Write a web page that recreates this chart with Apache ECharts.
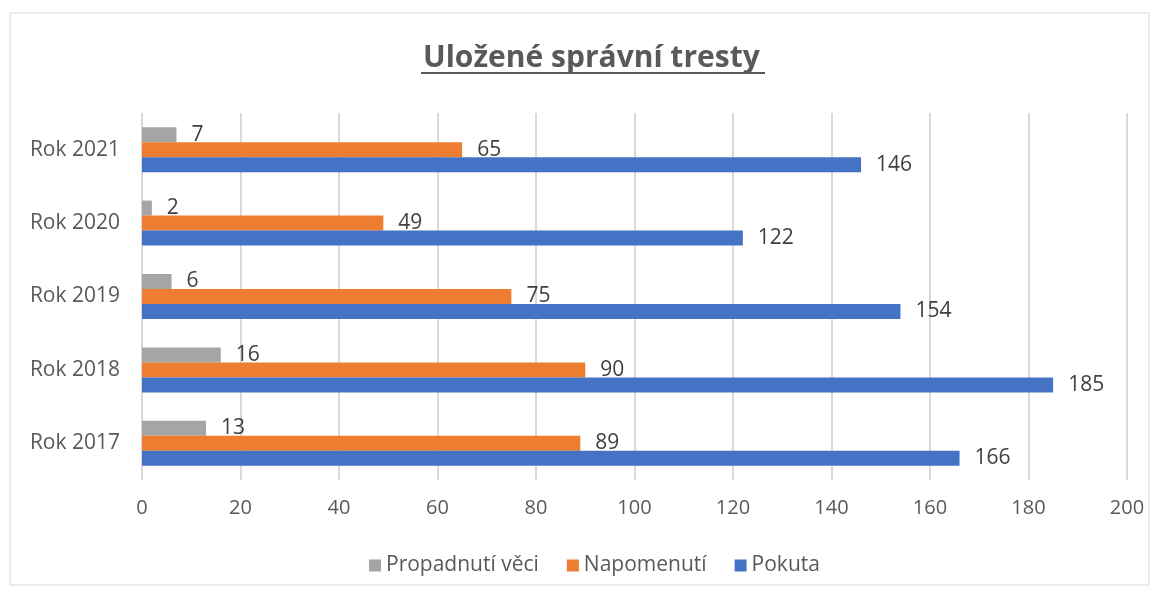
<!DOCTYPE html>
<html>
<head>
<meta charset="utf-8">
<script src="https://cdn.jsdelivr.net/npm/echarts@6/dist/echarts.min.js"></script>
<style>
  html, body { margin: 0; padding: 0; background: #fff; }
  #chart { width: 1161px; height: 594px; }
</style>
</head>
<body>
<div id="chart"></div>
<script>
// data
const years = ['Rok 2017', 'Rok 2018', 'Rok 2019', 'Rok 2020', 'Rok 2021'];
const pokuta = [166, 185, 154, 122, 146];
const napomenuti = [89, 90, 75, 49, 65];
const propadnuti = [13, 16, 6, 2, 7];
const xTicks = [0, 200, 20];

const FONT = '"Open Sans", "Noto Sans", sans-serif';
const TEXT = '#595959';

const chart = echarts.init(document.getElementById('chart'));

function barSeries(name, data, color) {
    return {
        name: name,
        type: 'bar',
        data: data,
        barWidth: 15,
        barGap: '0%',
        itemStyle: { color: color },
        label: {
            show: true,
            position: 'right',
            distance: 15,
            color: '#404040',
            fontFamily: FONT,
            fontSize: 21
        }
    };
}

chart.setOption({
    animation: false,
    title: {
        text: 'Uložené správní tresty',
        left: 418,
        top: 38,
        textStyle: { fontFamily: FONT, fontSize: 30, fontWeight: 'bold', color: TEXT }
    },
    legend: {
        data: ['Propadnutí věci', 'Napomenutí', 'Pokuta'],
        bottom: 13,
        left: 364,
        icon: 'rect',
        itemWidth: 12,
        itemHeight: 12,
        itemGap: 28,
        textStyle: { fontFamily: FONT, fontSize: 21, color: TEXT }
    },
    grid: { left: 142, right: 34, top: 113, bottom: 114, containLabel: false },
    xAxis: {
        type: 'value',
        min: xTicks[0],
        max: xTicks[1],
        interval: xTicks[2],
        axisLine: { show: false },
        axisTick: { show: false },
        splitLine: { lineStyle: { color: '#D9D9D9', width: 2 } },
        axisLabel: { margin: 18, fontFamily: FONT, fontSize: 20, color: TEXT }
    },
    yAxis: {
        type: 'category',
        data: years,
        axisLine: { show: false },
        axisTick: { show: false },
        axisLabel: { margin: 22, fontFamily: FONT, fontSize: 21, color: TEXT }
    },
    series: [
        barSeries('Propadnutí věci', propadnuti, '#A5A5A5'),
        barSeries('Napomenutí', napomenuti, '#ED7D31'),
        barSeries('Pokuta', pokuta, '#4472C4')
    ],
    graphic: [
        {
            type: 'rect',
            shape: { x: 10, y: 13, width: 1139, height: 572 },
            style: { fill: 'none', stroke: '#D9D9D9', lineWidth: 1 },
            silent: true
        },
        {
            type: 'line',
            shape: { x1: 421, y1: 73, x2: 765, y2: 73 },
            style: { stroke: TEXT, lineWidth: 2 },
            silent: true
        }
    ]
});
</script>
</body>
</html>
